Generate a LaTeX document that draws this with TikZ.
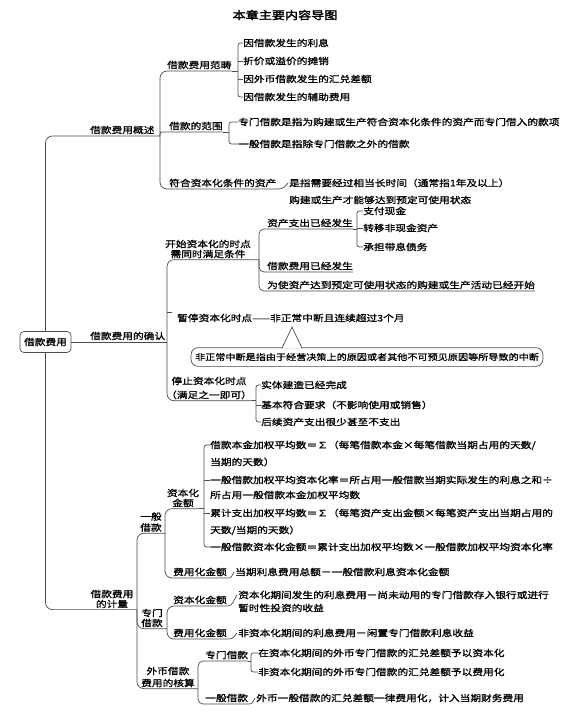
\documentclass[tikz,border=0pt]{standalone}
\usepackage{fontspec}
\setmainfont{Noto Sans CJK SC}[FakeStretch=1.19,FakeBold=1.1]
\newfontfamily\titlefont{Noto Sans CJK SC}[FakeStretch=1.19,FakeBold=2.2]
\usetikzlibrary{calc}
\begin{document}
\begin{tikzpicture}[x=1pt,y=-1pt,
  txt/.style={inner xsep=0pt,inner ysep=1.3pt,text height=7.9pt,text depth=1.1pt,anchor=west,font=\fontsize{9}{10}\selectfont},
  ml/.style={inner xsep=0pt,inner ysep=1.3pt,align=center,anchor=center},
  conn/.style={draw=black!70,line width=0.7pt,rounded corners=7pt},
  brk/.style={draw=black!70,line width=0.7pt,rounded corners=2.5pt},
  tick/.style={draw=black!70,line width=0.7pt}]
\useasboundingbox (0,0) rectangle (580,717);
\fill[white] (0,0) rectangle (580,717);

\node[font=\titlefont\fontsize{11}{12}\selectfont] (title) at (285,15) {本章主要内容导图};

\node[draw=black!70,line width=0.7pt,rounded corners=4pt,minimum width=51pt,minimum height=21pt,inner sep=0pt,text height=7.9pt,text depth=1.1pt,font=\fontsize{9}{10}\selectfont] (root) at (45.5,342) {借款费用};

% ---------------- section 1
\node[txt] (s1) at (90,130) {借款费用概述};
\coordinate (v1) at (160,0);
\draw[conn] (root.north) |- (s1.south -| v1);
\node[txt] (a1) at (167,65) {借款费用范畴};
\node[txt] (a2) at (169,126) {借款的范围};
\node[txt] (a3) at (169,183) {符合资本化条件的资产};
\draw[conn] (s1.south -| v1) |- (a1.south east);
\draw[conn,rounded corners=2pt] (s1.south -| v1) |- (a2.south east);
\draw[conn] (s1.south -| v1) |- (a3.south east);

\coordinate (b1) at (238,0);
\node[txt] (a11) at (243,43) {因借款发生的利息};
\node[txt] (a12) at (243,61) {折价或溢价的摊销};
\node[txt] (a13) at (243,79) {因外币借款发生的汇兑差额};
\node[txt] (a14) at (243,97) {因借款发生的辅助费用};
\draw[brk] (a11.west) -| (a1.south east -| b1) |- (a14.west);
\draw[tick] (a12.west) -- (a12.west -| b1);
\draw[tick] (a13.west) -- (a13.west -| b1);
\draw[tick] (a1.south east) -- (a1.south east -| b1);

\coordinate (b2) at (229,0);
\node[txt] (a21) at (238,122) {专门借款是指为购建或生产符合资本化条件的资产而专门借入的款项};
\node[txt] (a22) at (238,144) {一般借款是指除专门借款之外的借款};
\draw[brk] (a21.west) -| (a2.south east -| b2) |- (a22.west);
\draw[tick] (a2.south east) -- (a2.south east -| b2);

\node[txt] (a31) at (289,183) {是指需要经过相当长时间（通常指1年及以上）};
\node[txt] (a32) at (289,200) {购建或生产才能够达到预定可使用状态};
\draw[tick] (a3.south east) .. controls +(6,0) and +(-4,5) .. ([xshift=-1pt]a31.west);

% ---------------- section 2
\node[txt] (s2) at (90,336) {借款费用的确认};
\coordinate (v2) at (167,0);
\draw[conn] (root.east) -- (root.east -| v2);
\node[ml,font=\fontsize{9}{10}\selectfont] (bb) at (208,249) {开始资本化的时点\\需同时满足条件};
\coordinate (v21) at (259,0);
\draw[conn] (root.east -| v2) |- (bb.south -| v21);
\node[txt] (c1) at (267,223) {资产支出已经发生};
\node[txt] (c2) at (267,266) {借款费用已经发生};
\node[txt] (c3) at (267,285) {为使资产达到预定可使用状态的购建或生产活动已经开始};
\draw[conn,rounded corners=5pt] (bb.south -| v21) |- (c1.south east);
\draw[conn,rounded corners=5pt] (bb.south -| v21) |- (c2.south east);
\draw[conn,rounded corners=5pt] (bb.south -| v21) |- (c3.south east);

\coordinate (b3) at (357,0);
\node[txt] (c11) at (363,211) {支付现金};
\node[txt] (c12) at (363,228) {转移非现金资产};
\node[txt] (c13) at (363,247) {承担带息债务};
\draw[brk] (c11.west) -| (c1.south east -| b3) |- (c13.west);
\draw[tick] (c12.west) -- (c12.west -| b3);
\draw[tick] (c1.south east) -- (c1.south east -| b3);

\node[txt] (d1) at (177,318) {暂停资本化时点——非正常中断且连续超过3个月};
\draw[tick] (d1.north west -| v2) -- ([xshift=-5pt]d1.north west);

\node[draw=black!70,line width=0.7pt,rounded corners=7pt,inner xsep=4pt,inner ysep=5pt,text height=7.6pt,text depth=1.1pt,font=\fontsize{8.5}{10}\selectfont] (e1) at (367,357) {非正常中断是指由于经营决策上的原因或者其他不可预见原因等所导致的中断};
\coordinate (tip) at (292,327);
\coordinate (pl) at ($(e1.north -| tip)+(-10,0.9)$);
\coordinate (pr) at ($(e1.north -| tip)+(10,0.9)$);
\draw[tick,fill=white] (pl) -- (tip) -- (pr);

\node[ml,font=\fontsize{9}{14}\selectfont] (f1) at (209,388) {停止资本化时点\\（满足之一即可）};
\draw[conn] (root.east -| v2) |- (f1.south east);
\coordinate (b4) at (256,0);
\node[txt] (f11) at (261,385) {实体建造已经完成};
\node[txt] (f12) at (261,405) {基本符合要求（不影响使用或销售）};
\node[txt] (f13) at (261,422) {后续资产支出很少甚至不支出};
\draw[brk] (f11.west) -| (f1.south east -| b4) |- (f13.west);
\draw[tick] (f12.west) -- (f12.west -| b4);
\draw[tick] (f1.south east) -- (f1.south east -| b4);

% ---------------- section 3
\node[ml,font=\fontsize{9}{10}\selectfont] (g0) at (112,599) {借款费用\\的计量};
\coordinate (v3) at (137,0);
\draw[conn] (root.south) |- (g0.south -| v3);
\node[ml,font=\fontsize{9}{11}\selectfont] (h1) at (151,522) {一般\\借款};
\node[ml,font=\fontsize{9}{10}\selectfont] (h2) at (152,618) {专门\\借款};
\node[ml,font=\fontsize{9}{12}\selectfont] (h3) at (168,677) {外币借款\\费用的核算};
\coordinate (v31) at (165,0);
\coordinate (v32) at (167,0);
\coordinate (v33) at (198,0);
\draw[conn] (g0.south -| v3) |- (h1.south -| v31);
\draw[conn] (g0.south -| v3) |- (h2.south -| v32);
\draw[conn] (g0.south -| v3) |- (h3.south -| v33);

\node[ml,font=\fontsize{9}{10}\selectfont] (m1) at (183,498) {资本化\\金额};
\node[txt] (m2) at (173,572) {费用化金额};
\draw[conn] (h1.south -| v31) |- (m1.south east);
\draw[conn] (h1.south -| v31) |- (m2.south east);

\coordinate (b5) at (204,0);
\node[txt] (n1) at (210,445) {借款本金加权平均数＝∑（每笔借款本金×每笔借款当期占用的天数/};
\node[txt] (n1b) at (210,462) {当期的天数）};
\node[txt] (n2) at (210,480) {一般借款加权平均资本化率＝所占用一般借款当期实际发生的利息之和÷};
\node[txt] (n2b) at (210,495) {所占用一般借款本金加权平均数};
\node[txt] (n3) at (210,513) {累计支出加权平均数＝∑（每笔资产支出金额×每笔资产支出当期占用的};
\node[txt] (n3b) at (210,530) {天数/当期的天数）};
\node[txt] (n4) at (210,547) {一般借款资本化金额＝累计支出加权平均数×一般借款加权平均资本化率};
\draw[brk] (n1.west) -| (m1.south east -| b5) |- (n4.west);
\draw[tick] (n2.west) -- (n2.west -| b5);
\draw[tick] (n3.west) -- (n3.west -| b5);
\draw[tick] (m1.south east) -- (m1.south east -| b5);

\node[txt] (o1) at (235,572) {当期利息费用总额－一般借款利息资本化金额};
\draw[tick] (m2.south east) .. controls +(5,0) and +(-3,5) .. ([xshift=-1pt]o1.west);

\node[txt] (m3) at (173,600) {资本化金额};
\node[txt] (m4) at (173,633) {费用化金额};
\draw[conn] (h2.south -| v32) |- (m3.south east);
\draw[conn] (h2.south -| v32) |- (m4.south east);
\node[txt] (p1) at (238,595) {资本化期间发生的利息费用－尚未动用的专门借款存入银行或进行};
\node[txt] (p1b) at (238,608) {暂时性投资的收益};
\node[txt] (p2) at (238,633) {非资本化期间的利息费用－闲置专门借款利息收益};
\draw[tick] (m3.south east) .. controls +(6,0) and +(-4,6) .. ([xshift=-1pt]p1.west);
\draw[tick] (m4.south east) .. controls +(6,0) and +(-4,5) .. ([xshift=-1pt]p2.west);

\node[txt] (m5) at (205,655) {专门借款};
\node[txt] (m6) at (205,698) {一般借款};
\draw[conn,rounded corners=5pt] (h3.south -| v33) |- (m5.south east);
\draw[conn,rounded corners=5pt] (h3.south -| v33) |- (m6.south east);
\coordinate (b6) at (251,0);
\node[txt] (q1) at (258,653) {在资本化期间的外币专门借款的汇兑差额予以资本化};
\node[txt] (q2) at (258,672) {非资本化期间的外币专门借款的汇兑差额予以费用化};
\draw[brk] (q1.west) -| (m5.south east -| b6) |- (q2.west);
\draw[tick] (m5.south east) -- (m5.south east -| b6);
\node[txt] (q3) at (256,698) {外币一般借款的汇兑差额一律费用化，计入当期财务费用};
\draw[tick] (m6.south east) .. controls +(4,0) and +(-3,5) .. ([xshift=-1pt]q3.west);
\end{tikzpicture}
\end{document}
